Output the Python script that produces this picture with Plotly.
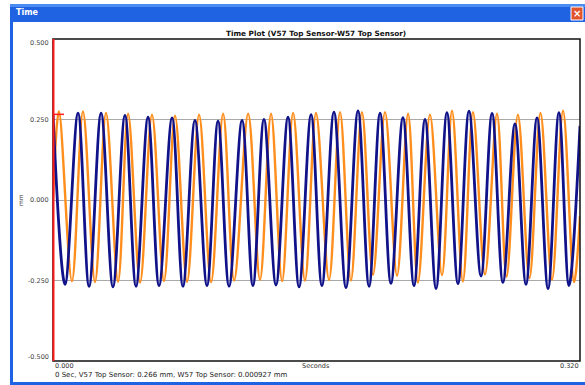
import plotly.graph_objects as go

# ---- data (extreme points of each waveform) ----
v57_t = [0.0, 0.0073, 0.0152, 0.0219, 0.0292, 0.0364, 0.0437, 0.0504, 0.0577, 0.0644,
         0.0723, 0.0789, 0.0862, 0.0935, 0.1002, 0.1069, 0.1148, 0.1214, 0.1281, 0.1354,
         0.1427, 0.1494, 0.1567, 0.1633, 0.1706, 0.1779, 0.1852, 0.1919, 0.1986, 0.2052,
         0.2125, 0.2192, 0.2259, 0.2326, 0.2392, 0.2459, 0.2526, 0.2599, 0.2666, 0.2732,
         0.2805, 0.2872, 0.2939, 0.3006, 0.3072, 0.3133, 0.3200]
v57_y = [0.266, -0.262, 0.270, -0.268, 0.270, -0.270, 0.263, -0.268, 0.257, -0.266,
         0.255, -0.268, 0.247, -0.266, 0.245, -0.268, 0.247, -0.266, 0.250, -0.264,
         0.257, -0.270, 0.265, -0.266, 0.273, -0.272, 0.277, -0.268, 0.270, -0.259,
         0.256, -0.266, 0.250, -0.275, 0.271, -0.260, 0.276, -0.236, 0.269, -0.256,
         0.236, -0.262, 0.255, -0.275, 0.271, -0.266, 0.230]

w57_t = [0.0, 0.0036, 0.0115, 0.0182, 0.0255, 0.0322, 0.0395, 0.0456, 0.0529, 0.0601,
         0.0674, 0.0741, 0.0814, 0.0887, 0.0960, 0.1033, 0.1100, 0.1185, 0.1257, 0.1324,
         0.1391, 0.1458, 0.1530, 0.1597, 0.1676, 0.1743, 0.1809, 0.1876, 0.1943, 0.2016,
         0.2089, 0.2156, 0.2216, 0.2289, 0.2362, 0.2423, 0.2489, 0.2550, 0.2623, 0.2696,
         0.2754, 0.2823, 0.2893, 0.2960, 0.3030, 0.3097, 0.3164, 0.3200]
w57_y = [0.001, 0.275, -0.252, 0.275, -0.255, 0.270, -0.254, 0.268, -0.256, 0.265,
         -0.252, 0.262, -0.254, 0.265, -0.255, 0.268, -0.250, 0.268, -0.248, 0.268,
         -0.252, 0.270, -0.250, 0.270, -0.248, 0.273, -0.250, 0.273, -0.232, 0.273,
         -0.235, 0.268, -0.256, 0.265, -0.233, 0.277, -0.253, 0.273, -0.231, 0.268,
         -0.238, 0.265, -0.243, 0.270, -0.248, 0.277, -0.255, -0.050]

y_ticks = [0.5, 0.25, 0.0, -0.25, -0.5]
y_ticktext = ["0.500", "0.250", "0.000", "-0.250", "-0.500"]
x_range = [0.0, 0.32]
x_labels = ["0.000", "0.320"]
cursor_t = 0.0
cursor_v = 0.266
status_text = "0 Sec, V57 Top Sensor: 0.266 mm, W57 Top Sensor: 0.000927 mm"
chart_title = "Time Plot (V57 Top Sensor-W57 Top Sensor)"

W, H = 585, 385
L, R, T, B = 53, 580, 39, 361


def px(x):
    return (x - L) / (R - L)


def py(y):
    return (B - y) / (B - T)


FONT = "DejaVu Sans"
NAVY = "#10128a"
ORANGE = "#ff8e1c"
BLUE = "#2063e2"

fig = go.Figure()
fig.add_trace(go.Scatter(x=w57_t, y=w57_y, mode="lines",
                         line=dict(color=ORANGE, width=2.4, shape="spline", smoothing=1.0),
                         hoverinfo="skip", showlegend=False))
fig.add_trace(go.Scatter(x=v57_t, y=v57_y, mode="lines",
                         line=dict(color=NAVY, width=2.8, shape="spline", smoothing=1.0),
                         hoverinfo="skip", showlegend=False))
fig.add_trace(go.Scatter(x=[cursor_t + 0.0033], y=[cursor_v], mode="markers",
                         marker=dict(symbol="line-ew", size=8,
                                     line=dict(color="#ff2020", width=1.5)),
                         hoverinfo="skip", showlegend=False))

cursor_px = px(L + (cursor_t - x_range[0]) / (x_range[1] - x_range[0]) * (R - L))

shapes = [
    # plot frame
    dict(type="rect", xref="paper", yref="paper", x0=0, x1=1, y0=0, y1=1,
         line=dict(color="#111", width=1.5), layer="above"),
    # title bar
    dict(type="rect", xref="paper", yref="paper", x0=px(10), x1=px(586), y0=py(22), y1=py(4),
         fillcolor=BLUE, line=dict(width=0), layer="above"),
    dict(type="rect", xref="paper", yref="paper", x0=px(10), x1=px(586), y0=py(7), y1=py(4),
         fillcolor="#4a8cf2", line=dict(width=0), layer="above"),
    # close button
    dict(type="rect", xref="paper", yref="paper", x0=px(571), x1=px(583), y0=py(20), y1=py(7),
         fillcolor="#e2542c", line=dict(color="white", width=1), layer="above"),
    # left & bottom borders
    dict(type="rect", xref="paper", yref="paper", x0=px(10), x1=px(13), y0=py(386), y1=py(22),
         fillcolor=BLUE, line=dict(width=0), layer="above"),
    dict(type="rect", xref="paper", yref="paper", x0=px(10), x1=px(586), y0=py(386), y1=py(382),
         fillcolor=BLUE, line=dict(width=0), layer="above"),
    # red cursor line (paper-referenced so it is not clipped at the plot edge)
    dict(type="line", xref="paper", yref="paper", x0=cursor_px + px(L + 0.5), x1=cursor_px + px(L + 0.5),
         y0=0, y1=1, line=dict(color="#ff1a1a", width=2), layer="above"),
]

annotations = [
    dict(text="<b>Time</b>", x=px(14), y=py(13), xref="paper", yref="paper",
         xanchor="left", yanchor="middle", showarrow=False,
         font=dict(family=FONT, size=8, color="white")),
    dict(text="<b>×</b>", x=px(577), y=py(13.5), xref="paper", yref="paper",
         xanchor="center", yanchor="middle", showarrow=False,
         font=dict(family=FONT, size=10, color="white")),
    dict(text="<b>" + chart_title + "</b>", x=px(316), y=py(33), xref="paper", yref="paper",
         xanchor="center", yanchor="middle", showarrow=False,
         font=dict(family=FONT, size=7.3, color="#111")),
    dict(text=x_labels[0], x=px(53), y=py(366), xref="paper", yref="paper",
         xanchor="left", yanchor="middle", showarrow=False,
         font=dict(family=FONT, size=6.5, color="#333")),
    dict(text="Seconds", x=px(316), y=py(366), xref="paper", yref="paper",
         xanchor="center", yanchor="middle", showarrow=False,
         font=dict(family=FONT, size=6.5, color="#333")),
    dict(text=x_labels[1], x=px(581), y=py(366), xref="paper", yref="paper",
         xanchor="right", yanchor="middle", showarrow=False,
         font=dict(family=FONT, size=6.5, color="#333")),
    dict(text=status_text, x=px(53), y=py(375), xref="paper", yref="paper",
         xanchor="left", yanchor="middle", showarrow=False,
         font=dict(family=FONT, size=7, color="#222")),
    dict(text="mm", x=px(20), y=py(200), xref="paper", yref="paper",
         xanchor="center", yanchor="middle", showarrow=False, textangle=-90,
         font=dict(family=FONT, size=6, color="#333")),
]
for v, t in zip(y_ticks, y_ticktext):
    shift = -4 if v == max(y_ticks) else (4 if v == min(y_ticks) else 0)
    annotations.append(dict(text=t, x=0, y=v, xref="paper", yref="y", xshift=-2, yshift=shift,
                            xanchor="right", yanchor="middle", showarrow=False,
                            font=dict(family=FONT, size=6.5, color="#444")))

fig.update_layout(
    width=W, height=H,
    margin=dict(l=L, r=W - R, t=T, b=H - B, pad=0),
    paper_bgcolor="white", plot_bgcolor="white",
    shapes=shapes, annotations=annotations,
    xaxis=dict(range=x_range, showticklabels=False, showgrid=False, zeroline=False,
               showline=False, ticks=""),
    yaxis=dict(range=[-0.5, 0.5], tickvals=y_ticks[1:-1], showticklabels=False, showgrid=True,
               gridcolor="#a9a9a9", gridwidth=1, zeroline=False,
               showline=False, ticks=""),
)

fig.write_html("out.html")
